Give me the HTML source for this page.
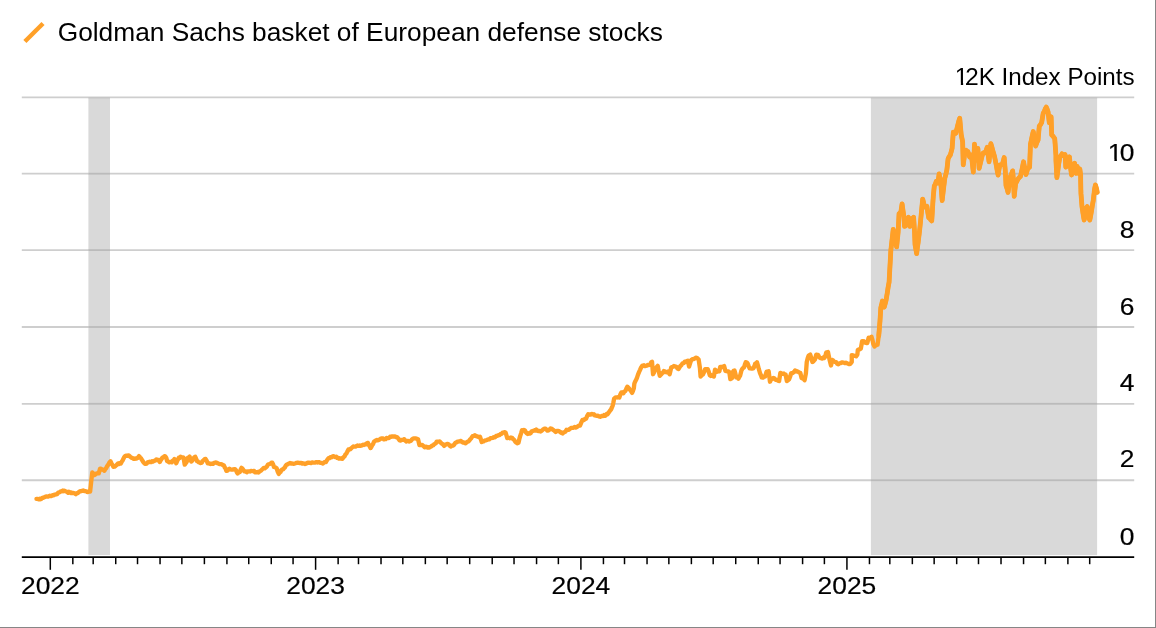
<!DOCTYPE html>
<html lang="en">
<head>
<meta charset="utf-8">
<title>Goldman Sachs basket of European defense stocks</title>
<style>
html,body{margin:0;padding:0;background:#fff;}
body{width:1156px;height:628px;overflow:hidden;position:relative;font-family:"Liberation Sans",Arial,Helvetica,sans-serif;}
#chart{position:absolute;left:0;top:0;width:1156px;height:628px;display:block;filter:blur(0.4px);}
#chart text{font-family:"Liberation Sans",Arial,Helvetica,sans-serif;fill:#000;}
#chart text.num{stroke:#000;stroke-width:0.2px;stroke-linejoin:round;}
.frame{position:absolute;background:#868686;}
</style>
</head>
<body>
<svg id="chart" width="1156" height="628" viewBox="0 0 1156 628">
<rect x="0" y="0" width="1156" height="628" fill="#ffffff"/>
<g stroke="#cecece" stroke-width="1.8" fill="none">
<line x1="21.8" y1="97.43" x2="1134.2" y2="97.43"/>
<line x1="21.8" y1="173.7" x2="1134.2" y2="173.7"/>
<line x1="21.8" y1="250.1" x2="1134.2" y2="250.1"/>
<line x1="21.8" y1="327.0" x2="1134.2" y2="327.0"/>
<line x1="21.8" y1="403.8" x2="1134.2" y2="403.8"/>
<line x1="21.8" y1="480.25" x2="1134.2" y2="480.25"/>
</g>
<g fill="#d9d9d9">
<rect x="88.4" y="97.43" width="21.6" height="457.67"/>
<rect x="870.9" y="97.43" width="226.2" height="457.67"/>
</g>
<g fill="#bbbbbb">
<rect x="88.4" y="97.43" width="21.6" height="0.9"/>
<rect x="870.9" y="97.43" width="226.2" height="0.9"/>
<rect x="88.4" y="172.8" width="21.6" height="1.8"/>
<rect x="870.9" y="172.8" width="226.2" height="1.8"/>
<rect x="88.4" y="249.2" width="21.6" height="1.8"/>
<rect x="870.9" y="249.2" width="226.2" height="1.8"/>
<rect x="88.4" y="326.1" width="21.6" height="1.8"/>
<rect x="870.9" y="326.1" width="226.2" height="1.8"/>
<rect x="88.4" y="402.9" width="21.6" height="1.8"/>
<rect x="870.9" y="402.9" width="226.2" height="1.8"/>
<rect x="88.4" y="479.35" width="21.6" height="1.8"/>
<rect x="870.9" y="479.35" width="226.2" height="1.8"/>
</g>
<path d="M36.49 498.88 L37.57 498.9 L38.65 499.34 L39.52 498.77 L40.38 499.22 L41.25 498.89 L42.11 497.87 L42.98 497.91 L43.84 497.36 L44.99 496.94 L46.15 496.32 L47.3 496.59 L48.45 496.47 L49.61 495.77 L50.76 496.19 L51.63 495.85 L52.49 495.16 L53.36 495.42 L54.22 494.58 L55.09 494.62 L55.95 494.36 L57.1 494.1 L58.26 492.6 L59.41 492.39 L60.56 491.45 L61.72 491.34 L62.87 490.58 L63.73 491.19 L64.6 490.73 L65.47 491.27 L66.33 491.51 L67.2 492.08 L68.06 492.73 L68.93 491.7 L69.79 492.33 L70.66 493 L71.52 492.56 L72.39 493.05 L73.54 492.99 L74.7 493.32 L75.85 494.14 L76.86 493.2 L77.87 493.1 L78.88 492.01 L79.96 491.23 L81.04 491.21 L82.12 490.96 L83.2 490.52 L84.28 491 L85.36 491.15 L86.23 491.3 L87.09 491.81 L87.96 492.06 L89.04 491.27 L90.12 491.52 L91.2 481.48 L92.28 472.49 L93.37 473.38 L94.45 474.98 L95.53 474.43 L96.61 473.44 L97.69 473.31 L98.77 473.36 L100.07 468.6 L100.93 468.69 L101.8 469.32 L102.66 469.53 L103.53 470.09 L104.39 470.76 L105.26 469.08 L106.12 468.23 L106.99 466.44 L108.14 464.95 L109.3 462.67 L110.45 461.25 L111.46 463.21 L112.47 465.03 L113.48 466.87 L114.49 466.72 L115.5 465.95 L116.51 465.08 L117.38 463.97 L118.24 463.37 L119.1 463.96 L119.97 462.94 L120.83 463.41 L121.7 461.73 L122.56 460.55 L123.43 458.65 L124.3 456.94 L125.16 456.06 L126.49 455.57 L127.5 455.73 L128.51 455.36 L129.52 456.09 L130.38 456.89 L131.25 457.61 L132.11 457.89 L132.98 458.27 L133.84 458.93 L134.71 458.78 L135.57 458.33 L136.44 458.56 L137.3 458.1 L138.17 457.23 L139.03 456.13 L140.11 457.47 L141.19 458.61 L142.28 460.34 L143.36 462.18 L144.44 463.44 L145.52 463.89 L146.6 463.64 L147.68 462.33 L148.55 462.02 L149.41 461.77 L150.27 462.14 L151.14 462.11 L152.01 461.22 L152.87 461.62 L153.74 461.01 L154.6 460.66 L155.47 460.55 L156.33 459.43 L157.41 460.12 L158.49 460.04 L159.79 462.01 L160.66 460.31 L161.52 458.99 L162.39 457.68 L163.47 457.13 L164.55 456.17 L165.42 456.48 L166.28 457.94 L167.15 461.12 L168.23 461.7 L169.31 462.37 L170.17 461.92 L171.04 461.81 L171.9 462.22 L172.77 460.61 L173.63 460.38 L174.5 458.98 L175.37 460.7 L176.23 463.3 L177.09 461.12 L177.96 459.42 L178.82 457.68 L179.69 457.93 L180.55 456.78 L181.42 457.08 L182.5 457.32 L183.58 457.68 L184.71 464.6 L185.66 463.36 L186.61 462.01 L187.91 457.68 L188.77 457.62 L189.64 456.64 L190.5 459.49 L191.37 461.57 L192.45 460.29 L193.53 458.13 L194.39 457.21 L195.26 456.82 L196.12 458.88 L196.99 461.14 L197.85 461.38 L198.72 462.42 L199.58 462.37 L200.67 463.06 L201.75 462.65 L202.62 461.02 L203.48 460.23 L204.56 459.22 L205.64 458.98 L206.72 460.82 L207.8 463.3 L208.67 463.2 L209.53 463.72 L210.4 463.95 L210.4 463.77 L211.28 463.92 L212.15 463.57 L213.03 463.89 L213.89 462.82 L214.76 462.85 L215.62 462.47 L216.49 462.61 L217.35 463.14 L218.22 463.36 L219.23 464.15 L220.24 464.09 L221.25 464.11 L222.11 464.52 L222.98 465.03 L223.84 465.28 L224.71 467.36 L225.57 468.49 L226.44 470.9 L227.45 470.63 L228.45 469.74 L229.46 468.65 L230.47 469.41 L231.48 469.63 L232.49 469.58 L233.36 469.31 L234.22 469.19 L235.09 469.17 L235.95 470.13 L236.82 472.21 L237.68 473.49 L238.76 472.32 L239.84 472.2 L240.7 469.52 L241.57 467.87 L242.44 468.67 L243.3 469.76 L244.17 471.31 L245.03 471.45 L245.9 471.43 L246.76 472.3 L247.77 471.42 L248.78 471.32 L249.79 471.46 L250.94 470.88 L252.1 471.1 L253.25 471.16 L254.12 470.91 L254.98 472.26 L255.85 472.13 L256.71 472.4 L257.58 471.98 L258.44 472.54 L259.31 471.6 L260.17 471.06 L261.04 470.6 L261.9 469.57 L262.77 468.87 L263.78 467.93 L264.79 468.32 L265.8 467.42 L266.88 466.58 L267.96 464.56 L268.82 464.26 L269.69 464.02 L270.55 463.78 L271.41 462.73 L272.28 462.68 L273.14 464.37 L274.01 467.01 L274.88 467.25 L275.74 467.59 L276.61 468.3 L277.69 471.51 L278.77 473.93 L279.63 472.56 L280.5 472 L281.37 470.14 L282.23 469.43 L283.1 469.34 L283.96 468.21 L284.83 467.55 L285.69 465.75 L286.56 464.8 L287.64 464.29 L288.72 463.68 L289.87 463.03 L291.03 463.54 L292.18 463.42 L293.26 463.86 L294.35 463.6 L295.43 463.27 L296.51 462.9 L297.67 462.7 L298.84 462.91 L300 463.16 L301.15 462.83 L302.31 463.63 L303.46 463.38 L304.33 463.54 L305.19 463.95 L306.06 463.73 L306.92 463.17 L307.79 462.68 L308.65 462.65 L309.8 462.92 L310.96 463.02 L312.11 462.33 L313.19 462.69 L314.27 462.58 L315.36 462.53 L316.44 462.09 L317.59 462.54 L318.75 462.09 L319.9 462.58 L320.91 462.94 L321.91 463.09 L322.92 463.6 L323.93 462.54 L324.94 462.05 L325.95 462.13 L326.81 460.4 L327.68 459.19 L328.55 458.26 L329.41 458.13 L330.28 457.26 L331.43 457.44 L332.59 456.46 L333.74 456.16 L334.6 456.85 L335.47 457.08 L336.33 456.66 L337.2 457.85 L338.06 457.79 L338.93 458.6 L340.08 458.34 L341.24 458.43 L342.39 458.84 L343.47 457.22 L344.55 456.33 L345.42 454.54 L346.28 453.6 L347.15 452.01 L348.44 449.43 L349.31 449.61 L350.17 449.24 L351.04 448.53 L352.12 447.48 L353.2 446.47 L354.21 446.56 L355.22 446.64 L356.23 446.19 L357.38 445.47 L358.54 445.94 L359.69 445.52 L360.84 445.77 L362 445.37 L363.15 444.78 L364.01 444.95 L364.88 444.49 L365.74 444.39 L366.83 443.27 L367.91 442.92 L368.77 445 L369.64 446.18 L370.5 448.11 L371.37 446.93 L372.23 445.02 L373.1 443.99 L373.96 441.82 L374.97 441.04 L375.98 440.39 L376.99 439.85 L377.85 440.29 L378.72 439.93 L379.58 439.57 L380.45 438.86 L381.31 438.49 L382.18 438.62 L383.05 438.35 L383.91 439.41 L384.78 439.07 L385.64 439.11 L386.51 438 L387.37 438.1 L388.24 438.07 L389.1 437.82 L389.97 436.82 L390 436.93 L390.87 436.92 L391.73 436.36 L392.6 436.34 L393.75 436.68 L394.91 436.46 L396.06 437.18 L397.14 437.19 L398.22 438.37 L399.52 440.19 L400.38 440.62 L401.25 440.1 L402.11 439.78 L403.19 439.52 L404.27 439.2 L405.57 440.99 L406.44 441.5 L407.3 440.9 L408.17 440.97 L409.25 441.46 L410.33 441.05 L411.19 440.54 L412.06 439.24 L413.07 438.63 L414.08 438.41 L415.09 438.44 L416.1 438.51 L417.1 438.78 L418.11 439.41 L419.41 445.03 L420.42 445.18 L421.43 444.84 L422.44 445.18 L423.52 446.13 L424.6 447.28 L425.68 446.65 L426.76 446.91 L427.63 447.65 L428.49 447.23 L429.36 447.65 L430.37 446.86 L431.38 446.26 L432.39 445.42 L433.25 445.38 L434.12 444.27 L434.98 443.84 L435.85 443.22 L436.71 441.59 L437.72 441.57 L438.73 441.59 L439.74 441.53 L440.82 442.69 L441.9 443.8 L442.99 444.25 L444.07 445.85 L445.15 444.98 L446.23 444.26 L447.09 443.98 L447.96 443.86 L448.82 444.56 L449.9 445.88 L450.99 446.49 L451.85 445.69 L452.72 445.64 L453.58 445.27 L454.44 444.29 L455.31 442.76 L456.32 442.41 L457.33 441.72 L458.34 441.51 L459.2 441.32 L460.07 441.14 L460.93 440.86 L462.01 442.08 L463.1 442.61 L463.96 442.36 L464.83 443.13 L465.69 443.28 L466.56 442.36 L467.42 441.79 L468.29 441.44 L469.15 440.82 L470.02 439.56 L470.88 438.61 L471.75 437.45 L472.61 436.14 L473.69 435.97 L474.78 435.17 L475.64 436.13 L476.51 436.03 L477.37 436.56 L478.45 436.97 L479.53 437.11 L480 436.76 L480.87 439.37 L481.73 441.96 L482.6 441.58 L483.46 441.41 L484.33 440.79 L485.19 440.46 L486.06 440.28 L486.92 439.96 L488.07 439.36 L489.23 439.35 L490.38 438.25 L491.53 438.12 L492.69 437.96 L493.84 437.13 L494.99 437.21 L496.15 435.93 L497.3 435.77 L498.45 435.21 L499.61 435.04 L500.76 433.87 L501.63 433.86 L502.49 432.61 L503.36 432.63 L504.44 432.08 L505.52 432.44 L506.38 435.18 L507.25 438.06 L508.11 437.6 L508.98 437.86 L509.84 438.23 L510.92 437.49 L512.01 437.78 L513.09 439.05 L514.17 439.92 L515.25 441.64 L516.33 442.67 L517.41 443.22 L518.49 442.82 L519.36 438.95 L520.22 435.9 L521.09 433.35 L521.96 430.28 L522.97 430.54 L523.97 429.99 L524.98 430.49 L525.85 432.31 L526.71 433.22 L527.72 433.92 L528.73 433.17 L529.74 433.65 L530.61 433.13 L531.47 431.53 L532.34 431.07 L533.2 430.83 L534.07 430.51 L535.15 430.62 L536.23 429.56 L537.1 430.65 L537.96 430.95 L538.82 430.74 L539.69 431.27 L540.55 431.55 L541.63 430.71 L542.72 429.84 L543.8 429.02 L544.88 428.59 L545.74 428.91 L546.61 429.75 L547.47 430.66 L548.56 430.37 L549.64 429.54 L550.5 428.47 L551.37 428.56 L552.45 429.36 L553.53 430.03 L554.61 430.96 L555.69 432.03 L556.77 430.87 L557.85 430.86 L558.93 431.11 L560.02 431.77 L560.88 432.5 L561.75 432.95 L562.61 433.52 L563.48 432.36 L564.34 432.25 L565.42 431.61 L566.51 429.8 L567.66 429.83 L568.82 429.73 L569.97 428.85 L571.12 428.03 L572.28 427.88 L573.43 427.81 L574.58 427.01 L575.74 427.64 L576.89 427.06 L577.93 426.27 L578.96 425.59 L580 425.52 L581.23 422.66 L582.46 419.98 L583.37 420.19 L584.28 419.79 L585.18 418.84 L586.09 418.84 L587.13 416.08 L588.17 414.17 L589.1 414.72 L590.04 414.35 L590.97 414.55 L591.91 413.86 L592.84 414.4 L593.88 414.29 L594.91 415.46 L595.95 415.65 L596.99 415.83 L598.03 415.67 L599.07 416.45 L600.11 416.79 L601.14 416.23 L602.18 415.88 L603.09 416.11 L603.99 415.11 L604.9 415.9 L605.81 415.34 L606.68 414.03 L607.54 414.2 L608.41 412.98 L609.27 411.76 L610.14 410.47 L611 409.5 L611.78 407.75 L612.56 405.87 L613.34 402.75 L614.12 398.6 L614.98 397.9 L615.85 397.32 L616.71 397.35 L617.58 397.45 L618.44 397.18 L619.31 397.56 L620.35 394.5 L621.38 392.37 L622.42 392.39 L623.46 393.23 L624.5 391.48 L625.54 390.81 L626.42 388.38 L627.3 386.66 L628.5 387.81 L629.69 389.41 L630.88 390.92 L632.08 392.89 L632.96 390.87 L633.84 388.22 L634.36 383.55 L635.23 381.39 L636.09 379.74 L636.96 377.84 L638 374.6 L639.03 372.13 L640.07 369.87 L641.11 367.4 L642.15 365.9 L643.06 365.58 L643.96 365.28 L644.87 366.12 L645.78 365.82 L646.69 365.65 L647.6 364.99 L648.5 365.11 L649.41 364.91 L650.28 364.38 L651.14 362.33 L652.01 361.75 L653.04 374.2 L653.91 372.68 L654.77 370.31 L655.64 368.49 L656.68 367.19 L657.72 365.9 L658.75 371.23 L659.79 375.76 L660.66 374.74 L661.52 373.99 L662.39 373.09 L663.16 372.27 L663.94 370.99 L664.81 372.01 L665.67 371.68 L666.54 372.31 L667.32 372.3 L668.1 371.5 L668.88 373.1 L669.65 374.2 L670.43 370.99 L671.21 367.46 L672.12 367.04 L673.03 366.67 L673.93 366.01 L674.84 366.24 L675.75 366.49 L676.66 367.11 L677.57 368.61 L678.48 369.01 L679.52 367.33 L680.55 365.84 L681.59 364.86 L682.63 363.31 L683.67 363.16 L684.71 361.7 L685.75 361.81 L686.78 361.24 L687.82 360.71 L689.08 366.57 L690.16 363.07 L691.25 360.09 L692.11 359.43 L692.98 359.14 L693.84 359.03 L694.92 358.32 L696 357.71 L696.87 357.8 L697.73 358.65 L698.6 359.22 L699.9 367.87 L700.59 376.52 L701.75 375.16 L702.92 374.36 L704 372.32 L705.09 369.17 L705.95 369.74 L706.82 369.23 L707.68 369.17 L708.76 371.89 L709.84 375.22 L710.71 375.95 L711.57 375.32 L712.44 375.72 L713.91 376.52 L715.03 369.6 L716.12 370.47 L717.2 371.68 L718.28 370.91 L719.36 371.33 L720.22 367.01 L721.31 366.95 L722.39 367.18 L723.25 366.63 L724.12 366.14 L725.42 370.9 L726.5 371.15 L727.58 371.4 L728.44 371.44 L729.31 372.2 L730.35 379.12 L731.12 378.69 L731.9 378.25 L732.77 372.2 L733.63 370.74 L734.5 370.47 L735.37 373.65 L736.23 377.39 L737.31 377.52 L738.39 378.64 L739.25 377.03 L740.12 375.66 L741.42 370.47 L742.28 368.91 L743.15 367.88 L744.01 367.44 L744.88 364.61 L745.74 362.25 L746.61 362.36 L747.47 363.11 L748.56 365.81 L749.64 368.3 L750.61 368.34 L751.59 368.6 L752.56 368.49 L753.53 368.3 L754.39 366.18 L755.26 363.55 L756.12 363.35 L756.99 362.25 L757.86 365.36 L758.72 368.74 L760.02 373.06 L760.88 375.02 L761.75 377.39 L762.9 377.68 L764.06 376.39 L765.21 376.52 L766.51 371.76 L767.59 371.81 L768.67 371.33 L769.97 381.71 L771.3 378.87 L772.31 378.89 L773.32 378.01 L774.33 378.4 L775.19 379.33 L776.06 379.92 L776.92 379.98 L778 380.66 L779.08 381.04 L780.38 372.82 L781.25 373.39 L782.11 373.77 L782.98 373.69 L783.84 373.54 L784.71 374.29 L785.57 374.55 L786.87 381.04 L787.95 380.18 L789.03 379.31 L790.11 376.68 L791.19 373.25 L792.28 373.21 L793.36 372.43 L794.23 371.86 L795.09 370.5 L795.95 370.92 L796.82 371.61 L797.68 371.46 L798.55 372.13 L799.41 372.6 L800.28 372.82 L801.57 378.01 L802.58 378.41 L803.59 378.89 L804.6 380.17 L805.9 373.25 L806.76 362.01 L807.62 358.54 L808.49 355.95 L809.36 355.13 L810.22 354.65 L811.31 357.86 L812.39 362.01 L813.25 361.55 L814.12 360.35 L814.98 359.41 L816.28 354.65 L817.14 354.91 L818.01 354.87 L818.88 356.42 L819.74 357.66 L820.61 358.19 L821.47 358.27 L822.34 358.59 L823.2 357.55 L824.07 358.05 L824.93 357.25 L826.23 352.49 L827.1 352.57 L827.96 352.06 L828.83 356.17 L829.69 360.28 L830.99 365.47 L832.28 359.84 L833.15 360.55 L834.01 361.36 L834.88 361.83 L836.03 362.1 L837.19 363.69 L838.34 364.19 L839.42 363.36 L840.5 363.13 L841.51 362.45 L842.52 362.52 L843.53 362.63 L844.68 363.13 L845.84 362.72 L846.99 363.3 L848.14 363.73 L849.3 364.15 L850.45 363.72 L851.75 362.01 L851.75 355.09 L852.83 355.36 L853.91 355.65 L854.99 355.83 L856.07 356.3 L857.37 354.65 L857.8 349.9 L858.81 349.44 L859.82 349.25 L860.83 348.6 L862.13 341.25 L863 341.55 L863.86 341.2 L865.16 342.65 L866.24 342.96 L867.32 342.98 L868.62 337.79 L869.08 337.98 L870.3 337.54 L871.51 336.76 L872.41 339.89 L873.32 344.03 L874.53 346.45 L875.54 345.42 L876.55 344.95 L877.56 344.64 L878.77 335.55 L879.98 321.02 L880.83 307.7 L881.62 304.66 L882.4 301.04 L883.31 303.83 L884.22 307.09 L885.13 303.84 L886.04 300.43 L887.25 293.17 L888.16 287.13 L889.07 282.27 L889.98 266.06 L890.83 250.55 L891.8 242.08 L893.25 229.36 L894.04 233.37 L894.83 238.44 L895.74 242.4 L896.64 246.92 L898.1 232.39 L899.07 213.62 L899.98 212.92 L900.88 211.8 L902.09 203.93 L903 210.52 L903.91 216.64 L904.52 226.33 L905.42 225.94 L906.33 225.12 L907.42 220.93 L908.51 217.25 L909.97 226.33 L910.88 222.72 L911.78 219.07 L912.69 218.12 L913.6 217.25 L914.57 232.39 L915.05 244.5 L915.84 249 L916.63 253.58 L917.41 247.37 L918.2 242.08 L919.65 229.97 L920.56 221.36 L921.47 211.8 L922.68 199.08 L923.59 202.66 L924.5 206.96 L925.71 207.23 L926.92 206.35 L927.83 212.62 L928.74 217.85 L929.75 218.28 L930.75 219.82 L931.76 220.88 L932.98 200.9 L933.32 196.06 L934.29 186 L935.32 183.96 L936.35 181.16 L937.13 182.63 L937.92 182.98 L939.13 173.89 L939.98 178.37 L940.83 182.98 L942.16 200.54 L943.05 192.79 L943.94 185.25 L944.83 178.13 L945.86 174.42 L946.89 169.65 L948.1 158.75 L949.19 156.59 L950.28 155.12 L951.18 151.89 L952.09 148.46 L953.3 132.11 L954.51 132.29 L955.73 133.32 L956.63 129.72 L957.54 126.06 L958.75 121.21 L959.72 118.18 L961.18 134.53 L962.63 141.8 L963.24 164.81 L964.14 158.09 L965.05 150.28 L965.98 150.24 L966.91 151.47 L967.84 151.49 L968.75 154.23 L969.65 156.94 L970.56 156.49 L971.47 155.12 L972.38 163.84 L973.29 172.08 L974.5 144.22 L975.4 151.77 L976.31 159.97 L977.1 154.69 L977.89 148.46 L979.1 168.44 L980.13 164.19 L981.16 159.97 L982.07 156.06 L982.98 153.3 L984.19 152.4 L985.4 152.7 L986.31 149.97 L987.21 147.25 L988.12 154.46 L989.03 161.78 L989.94 152.46 L990.85 143.62 L991.75 146.52 L992.66 150.28 L993.57 153.12 L994.48 156.33 L995.39 160.65 L996.3 165.42 L997.2 170.67 L998.11 175.1 L999.02 169.36 L999.93 164.81 L1001.14 164.81 L1002.35 164.2 L1003.26 161.28 L1004.17 157.54 L1005.38 172.08 L1005.99 185.4 L1007.01 188.45 L1008.04 192.42 L1009.13 185.18 L1010.22 176.92 L1011.43 174.15 L1012.65 170.87 L1013.49 180.55 L1014.22 196.3 L1015.67 182.98 L1016.68 181.85 L1017.69 179.49 L1018.7 178.13 L1019.61 177.07 L1020.52 176.31 L1021.73 170.87 L1022.64 166.2 L1023.55 161.78 L1024.76 168.74 L1025.97 174.5 L1026.88 171.58 L1027.79 168.44 L1028.69 167.67 L1029.6 167.23 L1030.45 144.22 L1031.38 139.9 L1032.31 135.48 L1033.24 131.51 L1034.45 138.23 L1035.66 146.04 L1036.87 142.53 L1038.08 139.98 L1039.29 126.06 L1040.5 124.64 L1041.71 122.42 L1042.47 117.54 L1043.24 113.17 L1044.25 111.67 L1045.25 108.83 L1046.26 107.11 L1047.17 109.25 L1048.08 111.96 L1049.29 122.85 L1050.2 119.84 L1051.11 116.8 L1051.71 134.97 L1052.72 135.81 L1053.73 137.24 L1054.74 138.6 L1055.95 155.55 L1055.95 160.28 L1056.87 177.58 L1057.73 171.64 L1058.6 164.6 L1059.9 156.82 L1060.98 155.77 L1062.06 153.79 L1062.92 155.24 L1063.79 155.95 L1065.09 154.65 L1065.78 167.2 L1066.73 166.06 L1067.68 164.6 L1068.55 161.21 L1069.41 156.82 L1070.71 168.93 L1071.57 174.98 L1072.43 170.32 L1073.3 164.6 L1074.6 163.3 L1075.9 173.25 L1077.2 166.33 L1078.49 173.25 L1079.79 168.93 L1080.66 174.98 L1080.66 180.65 L1080.97 193.63 L1082.01 206.6 L1083.3 215.25 L1084.17 220.01 L1085.04 214.23 L1085.9 208.33 L1087.2 206.6 L1088.49 216.98 L1089.79 220.01 L1090.65 215.73 L1091.52 210.93 L1092.38 205.2 L1093.25 200.55 L1094.55 189.3 L1095.42 184.98 L1096.71 189.3 L1097.23 192.33" fill="none" stroke="#ffa028" stroke-width="4.35" stroke-linejoin="round" stroke-linecap="round"/>
<path d="M878.77 335.55 L879.98 321.02 L880.83 307.7 L881.62 304.66 L882.4 301.04 L883.31 303.83 L884.22 307.09 L885.13 303.84 L886.04 300.43 L887.25 293.17 L888.16 287.13 L889.07 282.27 L889.98 266.06 L890.83 250.55 L891.8 242.08 L893.25 229.36 L894.04 233.37 L894.83 238.44 L895.74 242.4 L896.64 246.92 L898.1 232.39 L899.07 213.62 L899.98 212.92 L900.88 211.8 L902.09 203.93 L903 210.52 L903.91 216.64 L904.52 226.33 L905.42 225.94 L906.33 225.12 L907.42 220.93 L908.51 217.25 L909.97 226.33 L910.88 222.72 L911.78 219.07 L912.69 218.12 L913.6 217.25 L914.57 232.39 L915.05 244.5 L915.84 249 L916.63 253.58 L917.41 247.37 L918.2 242.08 L919.65 229.97 L920.56 221.36 L921.47 211.8 L922.68 199.08 L923.59 202.66 L924.5 206.96 L925.71 207.23 L926.92 206.35 L927.83 212.62 L928.74 217.85 L929.75 218.28 L930.75 219.82 L931.76 220.88 L932.98 200.9 L933.32 196.06 L934.29 186 L935.32 183.96 L936.35 181.16 L937.13 182.63 L937.92 182.98 L939.13 173.89 L939.98 178.37 L940.83 182.98 L942.16 200.54 L943.05 192.79 L943.94 185.25 L944.83 178.13 L945.86 174.42 L946.89 169.65 L948.1 158.75 L949.19 156.59 L950.28 155.12 L951.18 151.89 L952.09 148.46 L953.3 132.11 L954.51 132.29 L955.73 133.32 L956.63 129.72 L957.54 126.06 L958.75 121.21 L959.72 118.18 L961.18 134.53 L962.63 141.8 L963.24 164.81 L964.14 158.09 L965.05 150.28 L965.98 150.24 L966.91 151.47 L967.84 151.49 L968.75 154.23 L969.65 156.94 L970.56 156.49 L971.47 155.12 L972.38 163.84 L973.29 172.08 L974.5 144.22 L975.4 151.77 L976.31 159.97 L977.1 154.69 L977.89 148.46 L979.1 168.44 L980.13 164.19 L981.16 159.97 L982.07 156.06 L982.98 153.3 L984.19 152.4 L985.4 152.7 L986.31 149.97 L987.21 147.25 L988.12 154.46 L989.03 161.78 L989.94 152.46 L990.85 143.62 L991.75 146.52 L992.66 150.28 L993.57 153.12 L994.48 156.33 L995.39 160.65 L996.3 165.42 L997.2 170.67 L998.11 175.1 L999.02 169.36 L999.93 164.81 L1001.14 164.81 L1002.35 164.2 L1003.26 161.28 L1004.17 157.54 L1005.38 172.08 L1005.99 185.4 L1007.01 188.45 L1008.04 192.42 L1009.13 185.18 L1010.22 176.92 L1011.43 174.15 L1012.65 170.87 L1013.49 180.55 L1014.22 196.3 L1015.67 182.98 L1016.68 181.85 L1017.69 179.49 L1018.7 178.13 L1019.61 177.07 L1020.52 176.31 L1021.73 170.87 L1022.64 166.2 L1023.55 161.78 L1024.76 168.74 L1025.97 174.5 L1026.88 171.58 L1027.79 168.44 L1028.69 167.67 L1029.6 167.23 L1030.45 144.22 L1031.38 139.9 L1032.31 135.48 L1033.24 131.51 L1034.45 138.23 L1035.66 146.04 L1036.87 142.53 L1038.08 139.98 L1039.29 126.06 L1040.5 124.64 L1041.71 122.42 L1042.47 117.54 L1043.24 113.17 L1044.25 111.67 L1045.25 108.83 L1046.26 107.11 L1047.17 109.25 L1048.08 111.96 L1049.29 122.85 L1050.2 119.84 L1051.11 116.8 L1051.71 134.97 L1052.72 135.81 L1053.73 137.24 L1054.74 138.6 L1055.95 155.55 L1055.95 160.28 L1056.87 177.58 L1057.73 171.64 L1058.6 164.6 L1059.9 156.82 L1060.98 155.77 L1062.06 153.79 L1062.92 155.24 L1063.79 155.95 L1065.09 154.65 L1065.78 167.2 L1066.73 166.06 L1067.68 164.6 L1068.55 161.21 L1069.41 156.82 L1070.71 168.93 L1071.57 174.98 L1072.43 170.32 L1073.3 164.6 L1074.6 163.3 L1075.9 173.25 L1077.2 166.33 L1078.49 173.25 L1079.79 168.93 L1080.66 174.98 L1080.66 180.65 L1080.97 193.63 L1082.01 206.6 L1083.3 215.25 L1084.17 220.01 L1085.04 214.23 L1085.9 208.33 L1087.2 206.6 L1088.49 216.98 L1089.79 220.01 L1090.65 215.73 L1091.52 210.93 L1092.38 205.2 L1093.25 200.55 L1094.55 189.3 L1095.42 184.98 L1096.71 189.3 L1097.23 192.33" fill="none" stroke="#ffa028" stroke-width="4.8" stroke-linejoin="round" stroke-linecap="round"/>
<g stroke="#000" fill="none">
<line x1="21.8" y1="557.0" x2="1134.2" y2="557.0" stroke-width="1.75"/>
<line x1="50.3" y1="557.0" x2="50.3" y2="569.8" stroke-width="1.5"/>
<line x1="72.83" y1="557.0" x2="72.83" y2="564.2" stroke-width="1.5"/>
<line x1="93.18" y1="557.0" x2="93.18" y2="564.2" stroke-width="1.5"/>
<line x1="115.72" y1="557.0" x2="115.72" y2="564.2" stroke-width="1.5"/>
<line x1="137.52" y1="557.0" x2="137.52" y2="564.2" stroke-width="1.5"/>
<line x1="160.05" y1="557.0" x2="160.05" y2="564.2" stroke-width="1.5"/>
<line x1="181.86" y1="557.0" x2="181.86" y2="564.2" stroke-width="1.5"/>
<line x1="204.39" y1="557.0" x2="204.39" y2="564.2" stroke-width="1.5"/>
<line x1="226.92" y1="557.0" x2="226.92" y2="564.2" stroke-width="1.5"/>
<line x1="248.73" y1="557.0" x2="248.73" y2="564.2" stroke-width="1.5"/>
<line x1="271.26" y1="557.0" x2="271.26" y2="564.2" stroke-width="1.5"/>
<line x1="293.07" y1="557.0" x2="293.07" y2="564.2" stroke-width="1.5"/>
<line x1="315.6" y1="557.0" x2="315.6" y2="569.8" stroke-width="1.5"/>
<line x1="338.13" y1="557.0" x2="338.13" y2="564.2" stroke-width="1.5"/>
<line x1="358.48" y1="557.0" x2="358.48" y2="564.2" stroke-width="1.5"/>
<line x1="381.02" y1="557.0" x2="381.02" y2="564.2" stroke-width="1.5"/>
<line x1="402.82" y1="557.0" x2="402.82" y2="564.2" stroke-width="1.5"/>
<line x1="425.35" y1="557.0" x2="425.35" y2="564.2" stroke-width="1.5"/>
<line x1="447.16" y1="557.0" x2="447.16" y2="564.2" stroke-width="1.5"/>
<line x1="469.69" y1="557.0" x2="469.69" y2="564.2" stroke-width="1.5"/>
<line x1="492.22" y1="557.0" x2="492.22" y2="564.2" stroke-width="1.5"/>
<line x1="514.03" y1="557.0" x2="514.03" y2="564.2" stroke-width="1.5"/>
<line x1="536.56" y1="557.0" x2="536.56" y2="564.2" stroke-width="1.5"/>
<line x1="558.37" y1="557.0" x2="558.37" y2="564.2" stroke-width="1.5"/>
<line x1="580.9" y1="557.0" x2="580.9" y2="569.8" stroke-width="1.5"/>
<line x1="603.43" y1="557.0" x2="603.43" y2="564.2" stroke-width="1.5"/>
<line x1="624.51" y1="557.0" x2="624.51" y2="564.2" stroke-width="1.5"/>
<line x1="647.04" y1="557.0" x2="647.04" y2="564.2" stroke-width="1.5"/>
<line x1="668.85" y1="557.0" x2="668.85" y2="564.2" stroke-width="1.5"/>
<line x1="691.38" y1="557.0" x2="691.38" y2="564.2" stroke-width="1.5"/>
<line x1="713.19" y1="557.0" x2="713.19" y2="564.2" stroke-width="1.5"/>
<line x1="735.72" y1="557.0" x2="735.72" y2="564.2" stroke-width="1.5"/>
<line x1="758.25" y1="557.0" x2="758.25" y2="564.2" stroke-width="1.5"/>
<line x1="780.06" y1="557.0" x2="780.06" y2="564.2" stroke-width="1.5"/>
<line x1="802.59" y1="557.0" x2="802.59" y2="564.2" stroke-width="1.5"/>
<line x1="824.39" y1="557.0" x2="824.39" y2="564.2" stroke-width="1.5"/>
<line x1="846.93" y1="557.0" x2="846.93" y2="569.8" stroke-width="1.5"/>
<line x1="869.46" y1="557.0" x2="869.46" y2="564.2" stroke-width="1.5"/>
<line x1="889.81" y1="557.0" x2="889.81" y2="564.2" stroke-width="1.5"/>
<line x1="912.34" y1="557.0" x2="912.34" y2="564.2" stroke-width="1.5"/>
<line x1="934.15" y1="557.0" x2="934.15" y2="564.2" stroke-width="1.5"/>
<line x1="956.68" y1="557.0" x2="956.68" y2="564.2" stroke-width="1.5"/>
<line x1="978.49" y1="557.0" x2="978.49" y2="564.2" stroke-width="1.5"/>
<line x1="1001.02" y1="557.0" x2="1001.02" y2="564.2" stroke-width="1.5"/>
<line x1="1023.55" y1="557.0" x2="1023.55" y2="564.2" stroke-width="1.5"/>
<line x1="1045.36" y1="557.0" x2="1045.36" y2="564.2" stroke-width="1.5"/>
<line x1="1067.89" y1="557.0" x2="1067.89" y2="564.2" stroke-width="1.5"/>
<line x1="1089.69" y1="557.0" x2="1089.69" y2="564.2" stroke-width="1.5"/>
</g>
<line x1="24.9" y1="41.5" x2="43.0" y2="23.5" stroke="#ffa028" stroke-width="4.4"/>
<text x="57.7" y="40.6" font-size="26.3" letter-spacing="0.0">Goldman Sachs basket of European defense stocks</text>
<clipPath id="cu" clipPathUnits="userSpaceOnUse"><path clip-rule="evenodd" d="M900 40H1156V100H900Z M948.73 82.87H960.84V86.4H948.73Z M963.16 82.87H966.04V86.4H963.16Z"/></clipPath>
<text y="84.9" font-size="24.2" clip-path="url(#cu)"><tspan x="954.83">1</tspan><tspan x="965.19">2K Index Points</tspan></text>
<clipPath id="c10" clipPathUnits="userSpaceOnUse"><path clip-rule="evenodd" d="M-40 -30H6V10H-40Z M-36 -2.03H-18.55V2H-36Z M-16.23 -2.03H-11.69V2H-16.23Z"/></clipPath>
<text class="num" transform="translate(1134.5 161.0) scale(1.085 1)" font-size="24.3" clip-path="url(#c10)"><tspan x="-24.59">1</tspan><tspan x="-13.51">0</tspan></text>
<text class="num" transform="translate(1134.5 237.5) scale(1.085 1)" font-size="24.3" text-anchor="end">8</text>
<text class="num" transform="translate(1134.5 314.5) scale(1.085 1)" font-size="24.3" text-anchor="end">6</text>
<text class="num" transform="translate(1134.5 390.9) scale(1.085 1)" font-size="24.3" text-anchor="end">4</text>
<text class="num" transform="translate(1134.5 467.4) scale(1.085 1)" font-size="24.3" text-anchor="end">2</text>
<text class="num" transform="translate(1134.5 544.5) scale(1.085 1)" font-size="24.3" text-anchor="end">0</text>
<text class="num" transform="translate(50.3 594.1) scale(1.085 1)" font-size="24.3" text-anchor="middle">2022</text>
<text class="num" transform="translate(315.6 594.1) scale(1.085 1)" font-size="24.3" text-anchor="middle">2023</text>
<text class="num" transform="translate(580.9 594.1) scale(1.085 1)" font-size="24.3" text-anchor="middle">2024</text>
<text class="num" transform="translate(846.93 594.1) scale(1.085 1)" font-size="24.3" text-anchor="middle">2025</text>
</svg>
<div class="frame" style="left:1155px;top:0;width:1px;height:628px"></div>
<div class="frame" style="left:0;top:627px;width:1156px;height:1px"></div>
</body>
</html>
